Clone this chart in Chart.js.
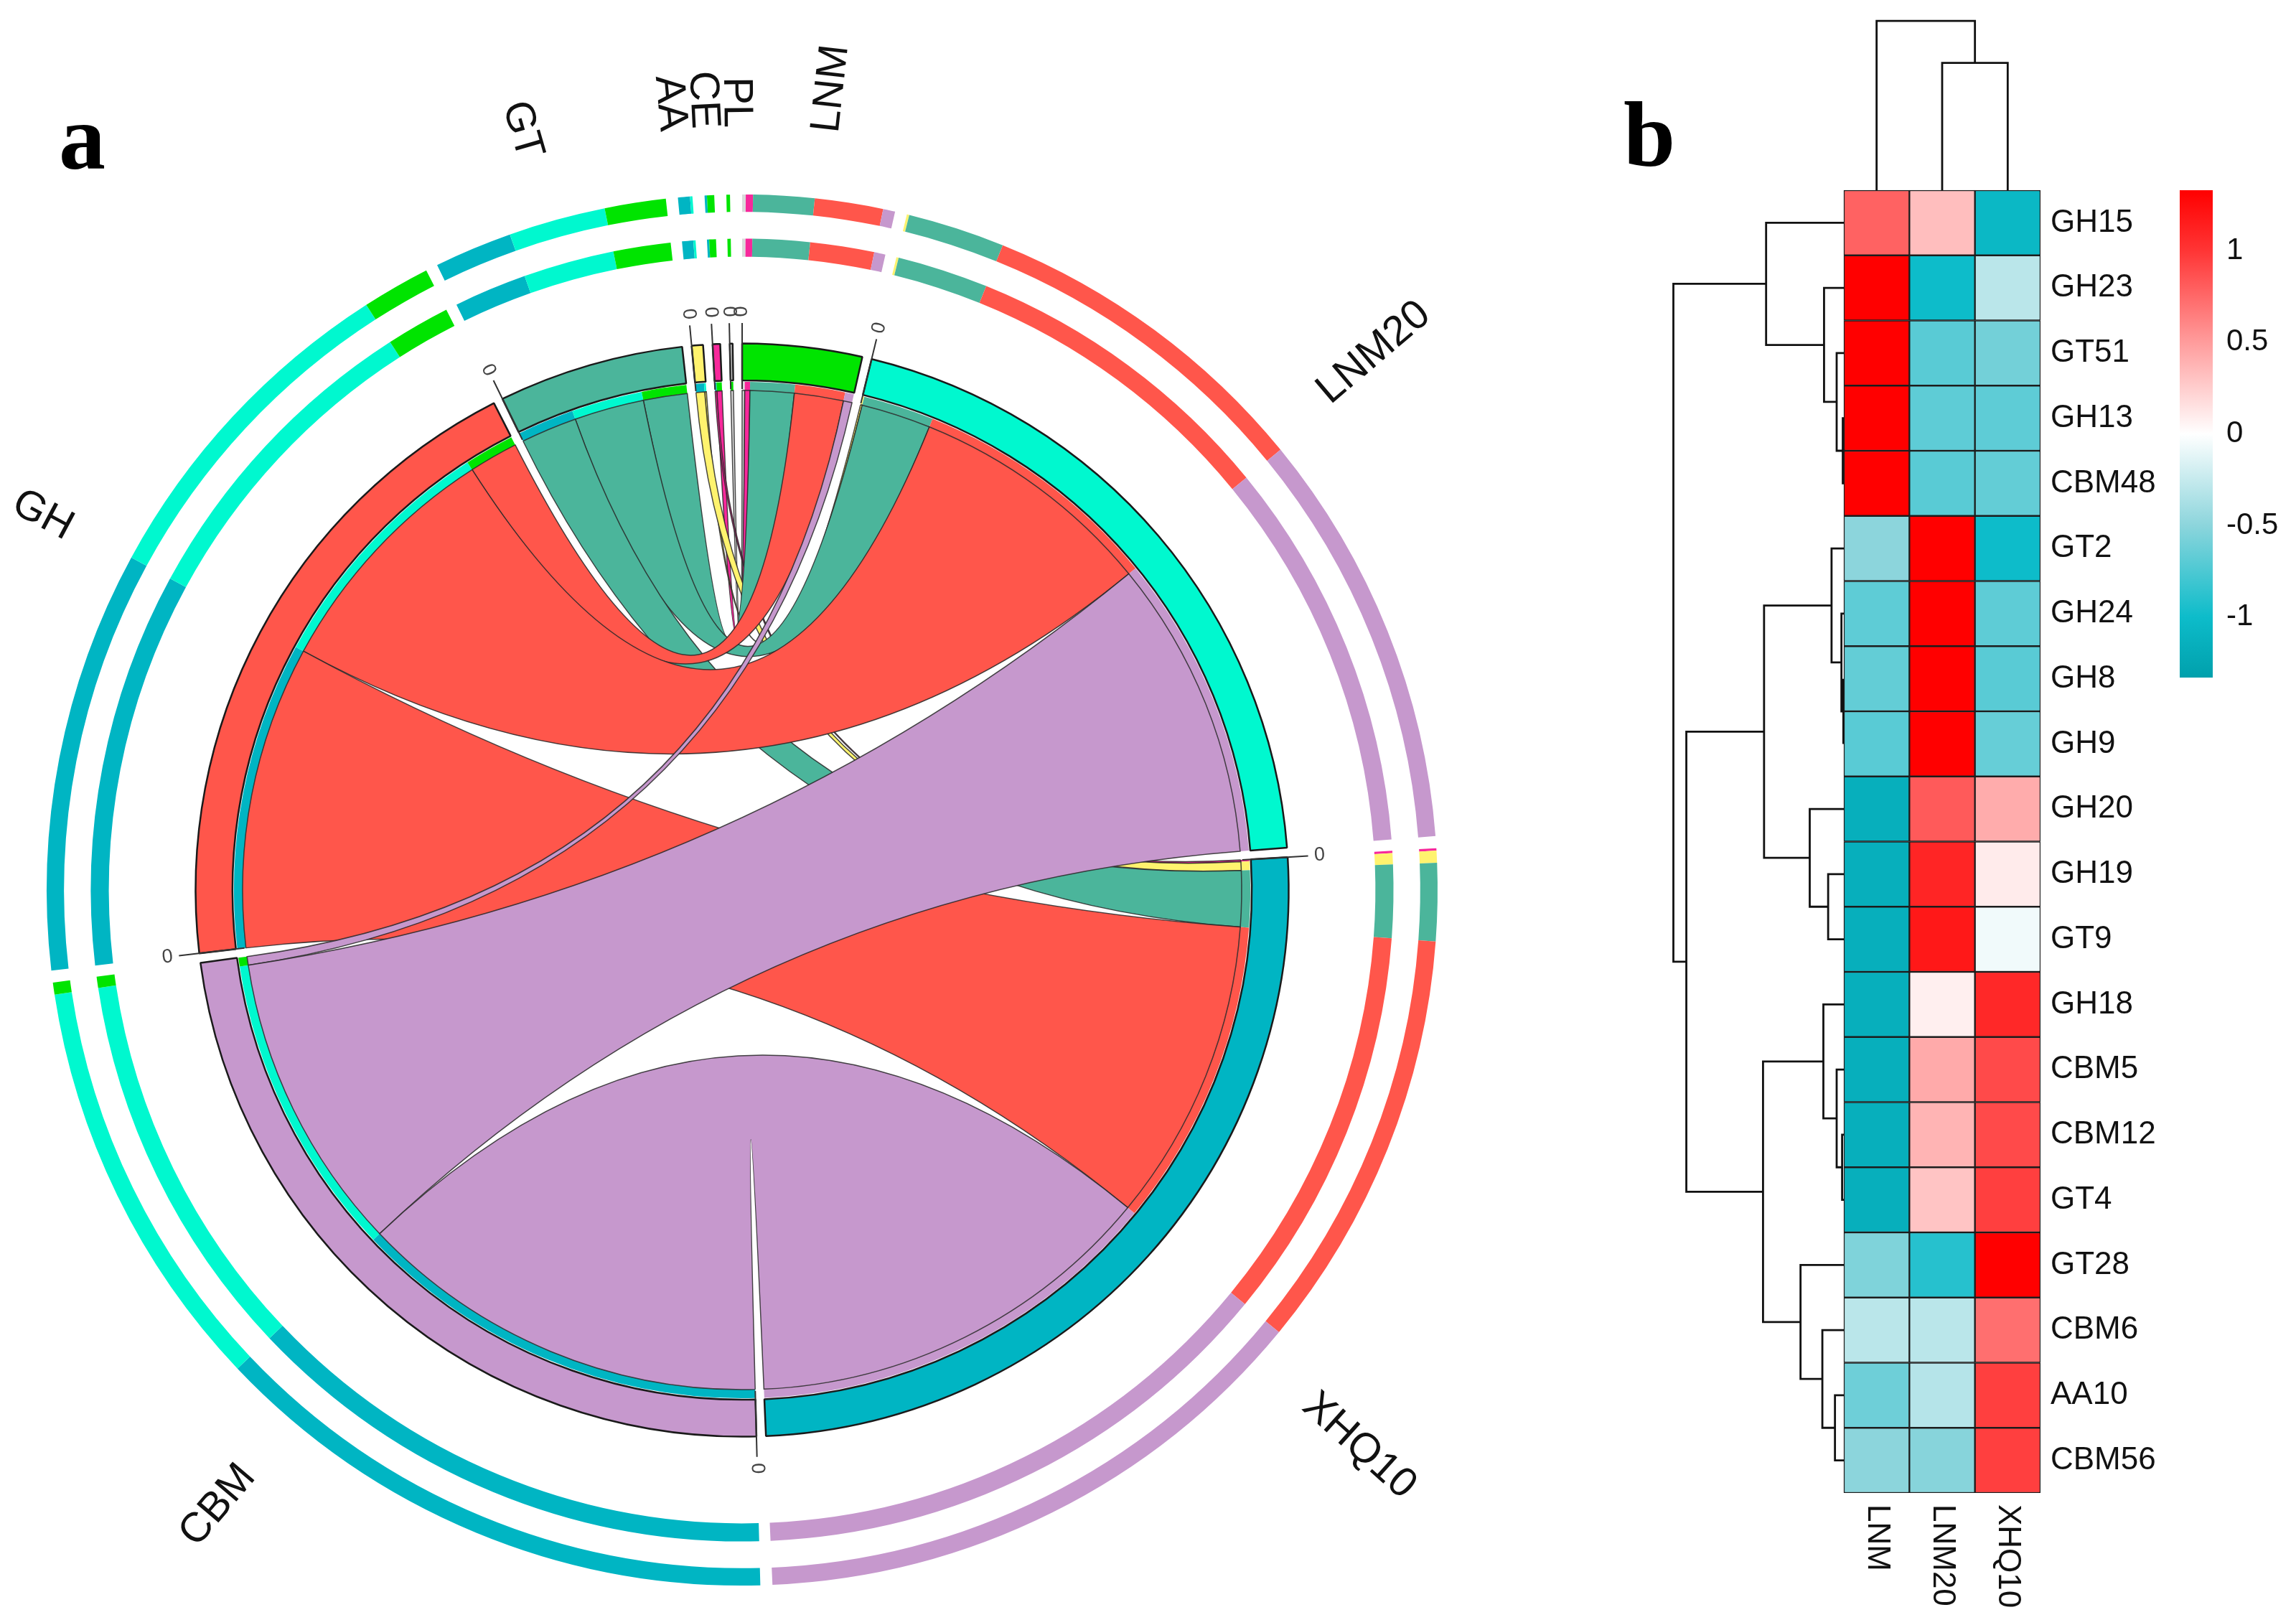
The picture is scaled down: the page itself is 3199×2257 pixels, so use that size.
<!DOCTYPE html>
<html lang="en">
<head>
<meta charset="UTF-8" />
<title>CAZy families chord diagram and heatmap</title>
<script src="https://cdn.jsdelivr.net/npm/chart.js"></script>
<style>
  html, body { margin: 0; padding: 0; background: #fff; }
  #page { position: relative; width: 3199px; height: 2257px; overflow: hidden; background: #fff; }
  #chord { position: absolute; left: 0; top: 0; }
  #heat { position: absolute; left: 2150px; top: 0; }
  .panel {
    position: absolute;
    font-family: 'Liberation Serif', 'Times New Roman', serif;
    font-weight: bold;
    font-size: 130px;
    line-height: 1;
    color: #000;
  }
</style>
</head>
<body>
<div id="page">
  <canvas id="chord" width="2068" height="2257"></canvas>
  <canvas id="heat" width="1049" height="2257"></canvas>
  <div class="panel" style="left:82px; top:126px;">a</div>
  <div class="panel" style="left:2262px; top:122px;">b</div>
</div>

<script>
  // ---- panel a: links from CAZy class to sample ----
  const families = ['CBM', 'GH', 'GT', 'AA', 'CE', 'PL'];
  const samples = ['LNM', 'LNM20', 'XHQ10'];
  const linkLNM   = [10, 57, 51, 0, 6, 3];
  const linkLNM20 = [348, 287, 81, 2, 0, 0];
  const linkXHQ10 = [480, 352, 65, 10, 2, 0];

  // ---- panel b: row z-scores ----
  const genes = ['GH15', 'GH23', 'GT51', 'GH13', 'CBM48', 'GT2', 'GH24', 'GH8', 'GH9', 'GH20',
                 'GH19', 'GT9', 'GH18', 'CBM5', 'CBM12', 'GT4', 'GT28', 'CBM6', 'AA10', 'CBM56'];
  const zLNM   = [0.78, 1.33, 1.33, 1.33, 1.33, -0.50, -0.68, -0.66, -0.70, -1.15,
                  -1.15, -1.15, -1.15, -1.15, -1.15, -1.15, -0.55, -0.30, -0.62, -0.50];
  const zLNM20 = [0.33, -1.00, -0.70, -0.68, -0.70, 1.33, 1.33, 1.33, 1.33, 0.82,
                  1.10, 1.18, 0.08, 0.43, 0.38, 0.30, -0.90, -0.30, -0.32, -0.52];
  const zXHQ10 = [-1.05, -0.30, -0.60, -0.68, -0.66, -1.00, -0.68, -0.70, -0.65, 0.42,
                  0.10, -0.06, 1.08, 0.90, 0.90, 0.95, 1.33, 0.72, 0.95, 0.95];
  const legendTicks = [1, 0.5, 0, -0.5, -1];

  // dendrograms, hclust style: negative = leaf (1-based), positive = earlier merge
  const rowMerge = [[-8, -9], [-4, -5], [-15, -16], [-7, 1], [-3, 2], [-14, 3], [-19, -20],
                    [-6, 4], [-11, -12], [-2, 5], [-13, 6], [-18, 7], [-10, 9], [-17, 12],
                    [-1, 10], [8, 13], [11, 14], [16, 17], [15, 18]];
  const rowHeight = [0.02, 0.03, 0.05, 0.07, 0.21, 0.21, 0.26, 0.36, 0.46, 0.58, 0.60, 0.63,
                     1.00, 1.27, 2.28, 2.34, 2.37, 4.62, 5.00];
  const colMerge = [[-2, -3], [-1, 1]];
  const colHeight = [3.76, 5.00];

  // ---- styling ----
  const famColor = { CBM: '#C698CD', GH: '#FF564B', GT: '#4BB59B', AA: '#FFF36E', CE: '#F7289B', PL: '#DADADA' };
  const smpColor = { LNM: '#00E400', LNM20: '#00F8CF', XHQ10: '#00B5C3' };
  const CLEAR = 'rgba(0,0,0,0)';
  const GAP_DEG = 1;
  const START_DEG = 88.5;
  const LABEL_MIN_SEP = 2.4 * Math.PI / 180;
  const FONT = '"Liberation Sans", Arial, sans-serif';

  // sectors clockwise: classes then samples
  const links = [linkLNM, linkLNM20, linkXHQ10];
  const sectors = [];
  families.forEach((name, i) => sectors.push({ name, type: 'f', idx: i, color: famColor[name] }));
  samples.forEach((name, i) => sectors.push({ name, type: 's', idx: i, color: smpColor[name] }));
  sectors.forEach(sec => {
    sec.segs = [];
    if (sec.type === 'f') {
      for (let s = samples.length - 1; s >= 0; s--) {
        const v = links[s][sec.idx];
        if (v > 0) sec.segs.push({ f: sec.idx, s, v, color: smpColor[samples[s]] });
      }
    } else {
      for (let f = families.length - 1; f >= 0; f--) {
        const v = links[sec.idx][f];
        if (v > 0) sec.segs.push({ f, s: sec.idx, v, color: famColor[families[f]] });
      }
    }
    sec.total = sec.segs.reduce((a, g) => a + g.v, 0);
  });
  const allUnits = sectors.reduce((a, s) => a + s.total, 0);
  const gapUnits = allUnits * GAP_DEG / (360 - sectors.length * GAP_DEG);

  const stripVals = [], stripCols = [], stripInfo = [];
  const secVals = [], secCols = [], secBorder = [];
  sectors.forEach(sec => {
    sec.segs.forEach(g => {
      stripVals.push(g.v); stripCols.push(g.color); stripInfo.push({ f: g.f, s: g.s, side: sec.type });
    });
    stripVals.push(gapUnits); stripCols.push(CLEAR); stripInfo.push(null);
    secVals.push(sec.total); secCols.push(sec.color); secBorder.push(2.5);
    secVals.push(gapUnits); secCols.push(CLEAR); secBorder.push(0);
  });

  function ring(vals, cols, weight, extra) {
    return Object.assign({ data: vals.slice(), backgroundColor: cols.slice(), borderWidth: 0, weight }, extra || {});
  }
  function spacer(weight) {
    return { data: [1], backgroundColor: [CLEAR], borderWidth: 0, weight };
  }

  // push crowded label angles apart
  function spread(angles, minSep) {
    const a = angles.slice();
    for (let it = 0; it < 60; it++) {
      for (let i = 1; i < a.length; i++) {
        const d = a[i] - a[i - 1];
        if (d < minSep) { const m = (minSep - d) / 2; a[i - 1] -= m; a[i] += m; }
      }
    }
    return a;
  }

  const RIBBON_ORDER = [5, 4, 3, 2, 1, 0];
  const TICK_IN = 698, TICK_OUT = 790, ZERO_R = 806, LABEL_R = 1062;

  const chordPlugin = {
    id: 'chordExtras',
    afterDatasetsDraw(chart) {
      const ctx = chart.ctx;
      const stripMeta = chart.getDatasetMeta(6);
      const secMeta = chart.getDatasetMeta(4);
      const cx = stripMeta.data[0].x, cy = stripMeta.data[0].y;
      const r = stripMeta.controller.innerRadius;

      // ribbons
      const ends = {};
      stripInfo.forEach((info, i) => {
        if (!info) return;
        const key = info.f + '-' + info.s;
        ends[key] = ends[key] || {};
        ends[key][info.side] = stripMeta.data[i];
      });
      ctx.save();
      RIBBON_ORDER.forEach(f => {
        samples.forEach((s, si) => {
          const e = ends[f + '-' + si];
          if (!e) return;
          const a = e.f, b = e.s;
          ctx.beginPath();
          ctx.arc(cx, cy, r, a.startAngle, a.endAngle);
          ctx.quadraticCurveTo(cx, cy, cx + r * Math.cos(b.startAngle), cy + r * Math.sin(b.startAngle));
          ctx.arc(cx, cy, r, b.startAngle, b.endAngle);
          ctx.quadraticCurveTo(cx, cy, cx + r * Math.cos(a.startAngle), cy + r * Math.sin(a.startAngle));
          ctx.closePath();
          ctx.fillStyle = famColor[families[f]];
          ctx.fill();
          ctx.lineWidth = 1.5;
          ctx.strokeStyle = 'rgba(40,40,40,0.85)';
          ctx.stroke();
        });
      });

      // sector start ticks
      sectors.forEach((sec, k) => {
        const a0 = secMeta.data[2 * k].startAngle;
        const deg0 = ((a0 * 180 / Math.PI) % 360 + 360) % 360;
        ctx.beginPath();
        ctx.moveTo(cx + TICK_IN * Math.cos(a0), cy + TICK_IN * Math.sin(a0));
        ctx.lineTo(cx + TICK_OUT * Math.cos(a0), cy + TICK_OUT * Math.sin(a0));
        ctx.lineWidth = 2;
        ctx.strokeStyle = '#333';
        ctx.stroke();
        ctx.save();
        ctx.translate(cx + ZERO_R * Math.cos(a0), cy + ZERO_R * Math.sin(a0));
        ctx.rotate(deg0 > 90 && deg0 < 270 ? a0 - Math.PI : a0);
        ctx.font = '27px ' + FONT;
        ctx.fillStyle = '#444';
        ctx.textAlign = 'center';
        ctx.textBaseline = 'middle';
        ctx.fillText('0', 0, 0);
        ctx.restore();
      });

      // sector names
      const mids = spread(sectors.map((sec, k) => {
        const el = secMeta.data[2 * k];
        return (el.startAngle + el.endAngle) / 2;
      }), LABEL_MIN_SEP);
      sectors.forEach((sec, k) => {
        const mid = mids[k];
        const deg = ((mid * 180 / Math.PI) % 360 + 360) % 360;
        const left = deg > 90 && deg < 270;
        ctx.save();
        ctx.translate(cx + LABEL_R * Math.cos(mid), cy + LABEL_R * Math.sin(mid));
        ctx.rotate(left ? mid - Math.PI : mid);
        ctx.font = '58px ' + FONT;
        ctx.fillStyle = '#111';
        ctx.textAlign = left ? 'right' : 'left';
        ctx.textBaseline = 'middle';
        ctx.fillText(sec.name, 0, 0);
        ctx.restore();
      });
      ctx.restore();
    }
  };

  new Chart(document.getElementById('chord'), {
    type: 'doughnut',
    data: {
      datasets: [
        ring(stripVals, stripCols, 24),
        spacer(37),
        ring(stripVals, stripCols, 25),
        spacer(120),
        ring(secVals, secCols, 51, { borderWidth: secBorder, borderColor: '#1a1a1a' }),
        spacer(2),
        ring(stripVals, stripCols, 12)
      ]
    },
    options: {
      responsive: false,
      animation: false,
      events: [],
      devicePixelRatio: 1,
      rotation: START_DEG + 90,
      cutout: 696,
      layout: { padding: { left: 65, right: 65, top: 271, bottom: 48 } },
      elements: { arc: { hoverOffset: 0, offset: 0, hoverBorderWidth: 0 } },
      plugins: { legend: { display: false }, tooltip: { enabled: false } }
    },
    plugins: [chordPlugin]
  });

  // ---- heatmap ----
  const zStops = [[-1.33, [0, 160, 172]], [-1, [13, 188, 202]], [-0.5, [140, 213, 220]], [0, [255, 255, 255]],
                  [0.5, [255, 156, 156]], [1, [255, 53, 53]], [1.33, [255, 0, 0]]];
  function zColor(v) {
    v = Math.max(zStops[0][0], Math.min(zStops[zStops.length - 1][0], v));
    for (let i = 1; i < zStops.length; i++) {
      const [v0, c0] = zStops[i - 1], [v1, c1] = zStops[i];
      if (v <= v1) {
        const t = (v - v0) / (v1 - v0);
        return 'rgb(' + c0.map((c, j) => Math.round(c + (c1[j] - c) * t)).join(',') + ')';
      }
    }
    return 'rgb(255,0,0)';
  }

  const zCols = [zLNM, zLNM20, zXHQ10];
  const DENDRO_SPAN = 2.6; // root height in cell units
  const XMIN = -2.945, YMIN = -2.70;

  function dendro(merge, heights) {
    const pos = [], hs = [], out = [];
    const P = c => (c < 0 ? -c - 0.5 : pos[c - 1]);
    const H = c => (c < 0 ? 0 : hs[c - 1]);
    merge.forEach(([a, b], i) => {
      const hm = heights[i];
      out.push([[P(a), H(a)], [P(a), hm], [P(b), hm], [P(b), H(b)]]);
      pos.push((P(a) + P(b)) / 2);
      hs.push(hm);
    });
    return out;
  }
  const rowK = DENDRO_SPAN / Math.max(...rowHeight);
  const colK = DENDRO_SPAN / Math.max(...colHeight);
  const lineStyle = { type: 'line', borderColor: '#111', borderWidth: 2.8, pointRadius: 0, fill: false, tension: 0 };

  const heatSets = genes.map((g, r) => ({
    type: 'bar',
    data: samples.map((s, c) => ({ x: c + 0.5, y: [r, r + 1] })),
    backgroundColor: samples.map((s, c) => zColor(zCols[c][r])),
    borderColor: '#1c1c1c',
    borderWidth: 1.5,
    borderSkipped: false,
    barPercentage: 1,
    categoryPercentage: 1,
    grouped: false
  }));
  const rowLines = dendro(rowMerge, rowHeight).map(seg =>
    Object.assign({ data: seg.map(([p, h]) => ({ x: -h * rowK, y: p })) }, lineStyle));
  const colLines = dendro(colMerge, colHeight).map(seg =>
    Object.assign({ data: seg.map(([p, h]) => ({ x: p, y: -h * colK })) }, lineStyle));

  const LEG_X = 887, LEG_W = 46, LEG_TOP = 265, LEG_BOTTOM = 944, LEG_MAX = 1.33;

  const heatPlugin = {
    id: 'heatExtras',
    afterDraw(chart) {
      const ctx = chart.ctx;
      const xs = chart.scales.x, ys = chart.scales.y;
      ctx.save();
      ctx.font = '44px ' + FONT;
      ctx.fillStyle = '#111';
      ctx.textBaseline = 'middle';
      ctx.textAlign = 'left';
      genes.forEach((g, r) => ctx.fillText(g, xs.getPixelForValue(3) + 14, ys.getPixelForValue(r + 0.5)));
      samples.forEach((s, c) => {
        ctx.save();
        ctx.translate(xs.getPixelForValue(c + 0.5), ys.getPixelForValue(genes.length) + 16);
        ctx.rotate(Math.PI / 2);
        ctx.fillText(s, 0, 0);
        ctx.restore();
      });
      // colour key
      ctx.font = '42px ' + FONT;
      const yOf = v => LEG_TOP + (LEG_MAX - v) / (2 * LEG_MAX) * (LEG_BOTTOM - LEG_TOP);
      const grad = ctx.createLinearGradient(0, LEG_TOP, 0, LEG_BOTTOM);
      zStops.forEach(([v, c]) => grad.addColorStop((LEG_MAX - v) / (2 * LEG_MAX), 'rgb(' + c.join(',') + ')'));
      ctx.fillStyle = grad;
      ctx.fillRect(LEG_X, LEG_TOP, LEG_W, LEG_BOTTOM - LEG_TOP);
      ctx.fillStyle = '#111';
      legendTicks.forEach(v => ctx.fillText(String(v), LEG_X + LEG_W + 19, yOf(v)));
      ctx.restore();
    }
  };

  new Chart(document.getElementById('heat'), {
    type: 'bar',
    data: { datasets: heatSets.concat(rowLines, colLines) },
    options: {
      responsive: false,
      animation: false,
      events: [],
      devicePixelRatio: 1,
      layout: { padding: { left: 150, right: 356, top: 20, bottom: 177 } },
      scales: {
        x: { type: 'linear', display: false, offset: false, min: XMIN, max: 3,
             afterBuildTicks: s => { s.ticks = [{ value: s.min }, { value: s.max }]; } },
        y: { type: 'linear', display: false, offset: false, reverse: true, min: YMIN, max: genes.length,
             afterBuildTicks: s => { s.ticks = [{ value: s.min }, { value: s.max }]; } }
      },
      plugins: { legend: { display: false }, tooltip: { enabled: false } }
    },
    plugins: [heatPlugin]
  });
</script>
</body>
</html>
